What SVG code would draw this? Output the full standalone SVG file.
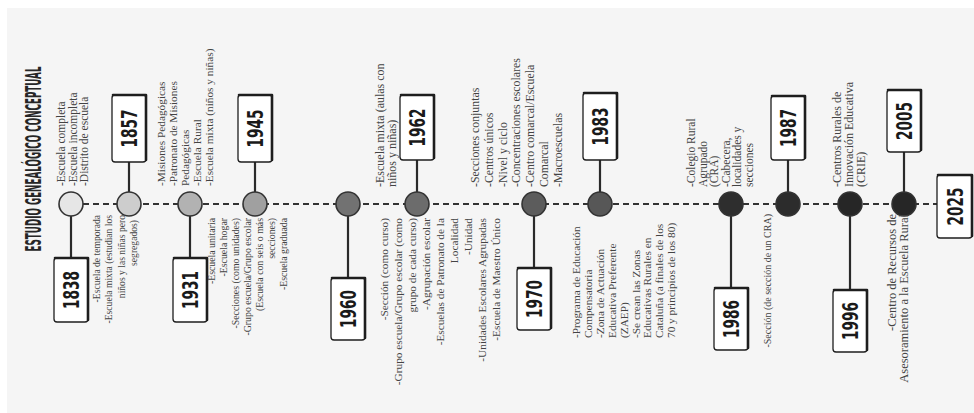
<svg xmlns="http://www.w3.org/2000/svg" width="974" height="413" viewBox="0 0 974 413">
<style>
.t{font-family:"Liberation Serif","Times New Roman",serif;fill:#434343}
.s{text-anchor:start}
.e{text-anchor:end}
.yr{font-family:"DejaVu Sans Condensed","Liberation Sans Narrow","DejaVu Sans",sans-serif;font-weight:bold;font-size:22px;fill:#1a1a1a;text-anchor:middle}
.title{font-family:"DejaVu Sans Condensed","Liberation Sans Narrow","DejaVu Sans",sans-serif;font-weight:bold;font-size:21px;fill:#262626;text-anchor:middle}
.box{fill:#fff;stroke:#1e1e1e;stroke-width:1.3}
.boxe{fill:none;stroke:#1e1e1e;stroke-width:2.6;stroke-linecap:round;stroke-linejoin:round}
.dot{stroke:#333;stroke-width:1.6}
.stem{stroke:#2a2a2a;stroke-width:2.2}
.dash{stroke:#333;stroke-width:2;stroke-dasharray:6 4}
</style>
<rect width="974" height="413" fill="#fff"/>
<rect x="7" y="8" width="967" height="405" fill="#f5f5f5"/>
<text class="title" transform="translate(41,159) rotate(-90) scale(0.464,1)">ESTUDIO GENEALÓGICO CONCEPTUAL</text>
<g id="connectors">
<line class="dash" x1="83" y1="204" x2="937" y2="204"/>
<line class="stem" x1="71" y1="216" x2="71" y2="258"/>
<line class="stem" x1="129" y1="192" x2="129" y2="162"/>
<line class="stem" x1="190" y1="216" x2="190" y2="258"/>
<line class="stem" x1="255" y1="192" x2="255" y2="162"/>
<line class="stem" x1="348" y1="216" x2="348" y2="278"/>
<line class="stem" x1="417" y1="192" x2="417" y2="160"/>
<line class="stem" x1="534" y1="216" x2="534" y2="268"/>
<line class="stem" x1="600" y1="192" x2="600" y2="160"/>
<line class="stem" x1="731" y1="216" x2="731" y2="288"/>
<line class="stem" x1="788" y1="192" x2="788" y2="160"/>
<line class="stem" x1="850" y1="216" x2="850" y2="290"/>
<line class="stem" x1="904" y1="192" x2="904" y2="152"/>
</g>
<g id="n1838">
<circle class="dot" cx="71" cy="204" r="12" fill="#e6e6e6"/>
<rect class="box" x="54" y="258" width="34" height="64" rx="3"/>
<path class="boxe" d="M55 258H88V320"/>
<text class="yr" transform="translate(79,290) rotate(-90)" textLength="38" lengthAdjust="spacingAndGlyphs">1838</text>
<g class="t s" font-size="11.5" transform="translate(65,186) rotate(-90)">
<text y="0">-Escuela completa</text><text y="11.7">-Escuela incompleta</text><text y="23.4">-Distrito de escuela</text>
</g>
<g class="t e" font-size="9.6" transform="translate(100,215) rotate(-90)">
<text y="0">-Escuela de temporada</text><text y="12.3">-Escuela mixta (estudian los</text><text y="24.6">niños y las niñas pero</text><text x="-28" y="36.9" text-anchor="middle">segregados)</text>
</g>
</g>
<g id="n1857">
<circle class="dot" cx="129" cy="204" r="12" fill="#cdcdcd"/>
<rect class="box" x="112" y="95" width="34" height="67" rx="3"/>
<path class="boxe" d="M113 95H146V160"/>
<text class="yr" transform="translate(137,128.5) rotate(-90)" textLength="38" lengthAdjust="spacingAndGlyphs">1857</text>
<g class="t s" font-size="11.3" transform="translate(165,186) rotate(-90)">
<text y="0">-Misiones Pedagógicas</text><text y="12">-Patronato de Misiones</text><text y="24">Pedagógicas</text><text y="36">-Escuela Rural</text><text y="48">-Escuela mixta (niños y niñas)</text>
</g>
</g>
<g id="n1931">
<circle class="dot" cx="190" cy="204" r="12" fill="#b2b2b2"/>
<rect class="box" x="173" y="258" width="34" height="64" rx="3"/>
<path class="boxe" d="M174 258H207V320"/>
<text class="yr" transform="translate(198,290) rotate(-90)" textLength="38" lengthAdjust="spacingAndGlyphs">1931</text>
</g>
<g id="n1945">
<circle class="dot" cx="255" cy="204" r="12" fill="#a0a0a0"/>
<rect class="box" x="238" y="95" width="34" height="67" rx="3"/>
<path class="boxe" d="M239 95H272V160"/>
<text class="yr" transform="translate(263,128.5) rotate(-90)" textLength="38" lengthAdjust="spacingAndGlyphs">1945</text>
<g class="t e" font-size="9.8" transform="translate(215,218) rotate(-90)">
<text y="0">-Escuela unitaria</text><text y="12">-Escuela hogar</text><text y="24">-Secciones (como unidades)</text><text y="36">-Grupo escuela/Grupo escolar</text><text y="48">(Escuela con seis o más</text><text y="60">secciones)</text><text y="72">-Escuela graduada</text>
</g>
</g>
<g id="n1960">
<circle class="dot" cx="348" cy="204" r="12" fill="#727272"/>
<rect class="box" x="331" y="278" width="34" height="62" rx="3"/>
<path class="boxe" d="M332 278H365V338"/>
<text class="yr" transform="translate(356,309) rotate(-90)" textLength="38" lengthAdjust="spacingAndGlyphs">1960</text>
<g class="t s" font-size="12" transform="translate(384,187) rotate(-90)">
<text y="0">-Escuela mixta (aulas con</text><text y="12">niños y niñas)</text>
</g>
</g>
<g id="n1962">
<circle class="dot" cx="417" cy="204" r="12" fill="#6c6c6c"/>
<rect class="box" x="400" y="95" width="34" height="65" rx="3"/>
<path class="boxe" d="M401 95H434V158"/>
<text class="yr" transform="translate(425,127.5) rotate(-90)" textLength="38" lengthAdjust="spacingAndGlyphs">1962</text>
<g class="t e" font-size="11.3" transform="translate(388,218) rotate(-90)">
<text y="0">-Sección (como curso)</text><text y="14">-Grupo escuela/Grupo escolar (como</text><text y="28">grupo de cada curso)</text><text y="42">-Agrupación escolar</text><text y="56">-Escuelas de Patronato de la</text><text y="70">Localidad</text><text y="84">-Unidad</text><text y="98">-Unidades Escolares Agrupadas</text><text y="112">-Escuela de Maestro Único</text>
</g>
</g>
<g id="n1970">
<circle class="dot" cx="534" cy="204" r="12" fill="#5c5c5c"/>
<rect class="box" x="517" y="268" width="34" height="62" rx="3"/>
<path class="boxe" d="M518 268H551V328"/>
<text class="yr" transform="translate(542,299) rotate(-90)" textLength="38" lengthAdjust="spacingAndGlyphs">1970</text>
<g class="t s" font-size="11.8" transform="translate(479,187) rotate(-90)">
<text y="0">-Secciones conjuntas</text><text y="13.8">-Centros únicos</text><text y="27.6">-Nivel y ciclo</text><text y="41.4">-Concentraciones escolares</text><text y="55.2">-Centro comarcal/Escuela</text><text y="69">Comarcal</text><text y="82.8">-Macroescuelas</text>
</g>
</g>
<g id="n1983">
<circle class="dot" cx="600" cy="204" r="12" fill="#575757"/>
<rect class="box" x="583" y="93" width="34" height="67" rx="3"/>
<path class="boxe" d="M584 93H617V158"/>
<text class="yr" transform="translate(608,126.5) rotate(-90)" textLength="38" lengthAdjust="spacingAndGlyphs">1983</text>
<g class="t s" font-size="11.3" transform="translate(580,338) rotate(-90)">
<text y="0">-Programa de Educación</text><text y="11.9">Compensatoria</text><text y="23.8">-Zona de Actuación</text><text y="35.7">Educativa Preferente</text><text y="47.6">(ZAEP)</text><text y="59.5">-Se crean las Zonas</text><text y="71.4">Educativas Rurales en</text><text y="83.3">Cataluña (a finales de los</text><text y="95.2">70 y principios de los 80)</text>
</g>
</g>
<g id="n1986">
<circle class="dot" cx="731" cy="204" r="12" fill="#2e2e2e"/>
<rect class="box" x="714" y="288" width="34" height="62" rx="3"/>
<path class="boxe" d="M715 288H748V348"/>
<text class="yr" transform="translate(739,319) rotate(-90)" textLength="38" lengthAdjust="spacingAndGlyphs">1986</text>
<g class="t s" font-size="11.5" transform="translate(695,187) rotate(-90)">
<text y="0">-Colegio Rural</text><text y="11.5">Agrupado</text><text y="23">(CRA)</text><text y="34.5">-Cabecera,</text><text y="46">localidades y</text><text y="57.5">secciones</text>
</g>
</g>
<g id="n1987">
<circle class="dot" cx="788" cy="204" r="12" fill="#2c2c2c"/>
<rect class="box" x="771" y="96" width="34" height="64" rx="3"/>
<path class="boxe" d="M772 96H805V158"/>
<text class="yr" transform="translate(796,128) rotate(-90)" textLength="38" lengthAdjust="spacingAndGlyphs">1987</text>
<g class="t e" font-size="10" transform="translate(771,214) rotate(-90)">
<text y="0">-Sección (de sección de un CRA)</text>
</g>
</g>
<g id="n1996">
<circle class="dot" cx="850" cy="204" r="12" fill="#262626"/>
<rect class="box" x="833" y="290" width="34" height="62" rx="3"/>
<path class="boxe" d="M834 290H867V350"/>
<text class="yr" transform="translate(858,321) rotate(-90)" textLength="38" lengthAdjust="spacingAndGlyphs">1996</text>
<g class="t s" font-size="12" transform="translate(841,187) rotate(-90)">
<text y="0">-Centros Rurales de</text><text y="12">Innovación Educativa</text><text y="24">(CRIE)</text>
</g>
</g>
<g id="n2005">
<circle class="dot" cx="904" cy="204" r="12" fill="#262626"/>
<rect class="box" x="887" y="90" width="34" height="62" rx="3"/>
<path class="boxe" d="M888 90H921V150"/>
<text class="yr" transform="translate(912,121) rotate(-90)" textLength="38" lengthAdjust="spacingAndGlyphs">2005</text>
<g class="t e" font-size="12.5" transform="translate(896,214) rotate(-90)">
<text y="0">-Centro de Recursos de</text><text y="12">Asesoramiento a la Escuela Rural</text>
</g>
</g>
<g id="n2025">
<rect class="box" x="937" y="175" width="35" height="63" rx="3"/>
<path class="boxe" d="M938 175H972V236"/>
<text class="yr" transform="translate(962.5,206.5) rotate(-90)" textLength="38" lengthAdjust="spacingAndGlyphs">2025</text>
</g>
</svg>
